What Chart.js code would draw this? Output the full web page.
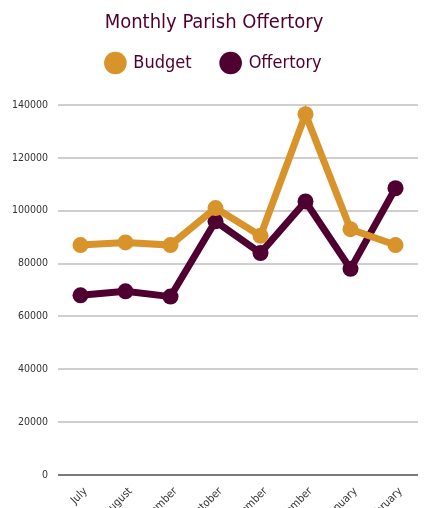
<!DOCTYPE html>
<html>
<head>
<meta charset="utf-8">
<script src="https://cdn.jsdelivr.net/npm/chart.js@4.4.1/dist/chart.umd.min.js"></script>
<style>
  body { margin: 0; background: #fff; overflow: hidden; }
  #wrap { width: 428px; height: 508px; }
</style>
</head>
<body>
<div id="wrap"><canvas id="offertoryChart"></canvas></div>
<script>
// Monthly Parish Offertory
const months = ['July', 'August', 'September', 'October', 'November', 'December', 'January', 'February'];
const budget = [87000, 88000, 87000, 101000, 90500, 136500, 93000, 87000];
const offertory = [68000, 69500, 67500, 96000, 84000, 103500, 78000, 108500];
const yTicks = [0, 20000, 40000, 60000, 80000, 100000, 120000, 140000];

const gold = '#d8932b';
const maroon = '#4f0030';
const fontFamily = "'DejaVu Sans Condensed', sans-serif";

function series(label, data, color) {
  return {
    label: label,
    data: data,
    borderColor: color,
    backgroundColor: color,
    borderWidth: 7,
    pointRadius: 8,
    pointBorderWidth: 0,
    pointBackgroundColor: color,
    pointStyle: 'circle',
    tension: 0,
    fill: false
  };
}

// extra room under the legend
const legendSpacer = {
  id: 'legendSpacer',
  beforeInit(chart) {
    const fit = chart.legend.fit;
    chart.legend.fit = function() {
      fit.bind(chart.legend)();
      this.height += 23;
    };
  }
};

const ctx = document.getElementById('offertoryChart').getContext('2d');
new Chart(ctx, {
  type: 'line',
  data: {
    labels: months,
    datasets: [series('Budget', budget, gold), series('Offertory', offertory, maroon)]
  },
  plugins: [legendSpacer],
  options: {
    responsive: true,
    maintainAspectRatio: false,
    animation: false,
    layout: { padding: { left: 10, right: 10 } },
    plugins: {
      title: {
        display: true,
        text: 'Monthly Parish Offertory',
        color: maroon,
        font: { family: fontFamily, size: 20, weight: 'normal' },
        padding: { top: 11, bottom: -11 }
      },
      legend: {
        display: true,
        labels: {
          usePointStyle: true,
          boxWidth: 26,
          boxHeight: 16,
          padding: 30,
          color: maroon,
          font: { family: fontFamily, size: 18 },
          generateLabels: function(chart) {
            return chart.data.datasets.map((ds, i) => ({
              text: ds.label,
              fillStyle: ds.backgroundColor,
              strokeStyle: ds.backgroundColor,
              lineWidth: 0,
              pointStyle: 'circle',
              fontColor: maroon,
              datasetIndex: i,
              hidden: !chart.isDatasetVisible(i)
            }));
          }
        }
      },
      tooltip: { enabled: false }
    },
    scales: {
      x: {
        offset: true,
        grid: { display: false },
        border: { display: false },
        ticks: {
          color: '#333',
          font: { family: fontFamily, size: 11 },
          minRotation: 45,
          maxRotation: 45,
          padding: 2,
          labelOffset: 5,
          autoSkip: false
        },
        afterFit: function(scale) { scale.height = 33; }
      },
      y: {
        min: 0,
        max: 140000,
        afterBuildTicks: function(scale) { scale.ticks = yTicks.map(v => ({ value: v })); },
        grid: {
          drawTicks: false,
          lineWidth: 2,
          color: c => (c.tick && c.tick.value === 0 ? '#7a7a7a' : '#cfcfcf')
        },
        border: { display: false },
        ticks: {
          color: '#333',
          font: { family: fontFamily, size: 10.5 },
          padding: 10,
          callback: v => String(v)
        },
        afterFit: function(scale) { scale.width = 48; }
      }
    }
  }
});
</script>
</body>
</html>
